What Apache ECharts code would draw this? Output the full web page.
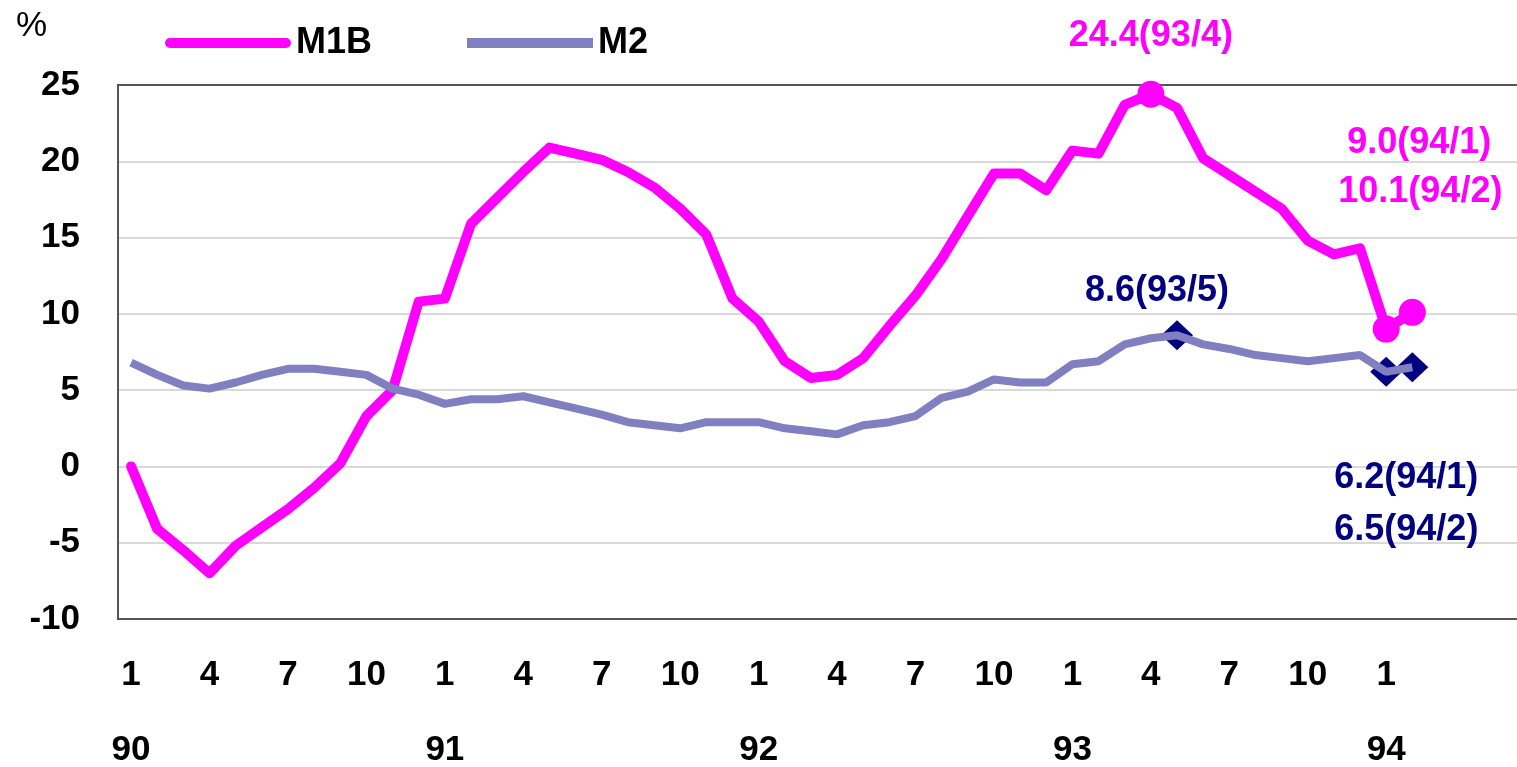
<!DOCTYPE html>
<html>
<head>
<meta charset="utf-8">
<title>M1B / M2</title>
<script src="https://cdn.jsdelivr.net/npm/echarts@6.0.0/dist/echarts.min.js"></script>
<style>
  html, body { margin: 0; padding: 0; background: #fff; }
  #chart { width: 1517px; height: 767px; }
</style>
</head>
<body>
<div id="chart"></div>
<script>
// year/month slots, 90/1 .. 94/2 hold data, the last few are empty room on the right
const categories = [
  '90/1', '90/2', '90/3', '90/4', '90/5', '90/6', '90/7', '90/8', '90/9', '90/10', '90/11', '90/12',
  '91/1', '91/2', '91/3', '91/4', '91/5', '91/6', '91/7', '91/8', '91/9', '91/10', '91/11', '91/12',
  '92/1', '92/2', '92/3', '92/4', '92/5', '92/6', '92/7', '92/8', '92/9', '92/10', '92/11', '92/12',
  '93/1', '93/2', '93/3', '93/4', '93/5', '93/6', '93/7', '93/8', '93/9', '93/10', '93/11', '93/12',
  '94/1', '94/2', '94/3', '94/4', '94/5', '94/6'
]

const m1b = [
  0.0, -4.1, -5.5, -7.0, -5.2, -4.0, -2.8, -1.4, 0.2, 3.3, 5.0, 10.8,
  11.0, 15.9, 17.6, 19.3, 20.9, 20.5, 20.1, 19.3, 18.3, 16.9, 15.2, 11.0,
  9.5, 6.9, 5.8, 6.0, 7.1, 9.2, 11.2, 13.6, 16.4, 19.2, 19.2, 18.1,
  20.7, 20.5, 23.7, 24.4, 23.5, 20.2, 19.1, 18.0, 16.9, 14.8, 13.9, 14.3,
  9.0, 10.1
]

const m2 = [
  6.8, 6.0, 5.3, 5.1, 5.5, 6.0, 6.4, 6.4, 6.2, 6.0, 5.1, 4.7,
  4.1, 4.4, 4.4, 4.6, 4.2, 3.8, 3.4, 2.9, 2.7, 2.5, 2.9, 2.9,
  2.9, 2.5, 2.3, 2.1, 2.7, 2.9, 3.3, 4.5, 4.9, 5.7, 5.5, 5.5,
  6.7, 6.9, 8.0, 8.4, 8.6, 8.0, 7.7, 7.3, 7.1, 6.9, 7.1, 7.3,
  6.2, 6.5
]

// highlighted points
const m1bMarks = ['93/4', '94/1', '94/2']
const m2Marks = ['93/5', '94/1', '94/2']

// where each note sits relative to its marker
const m1bNoteOffset = { '93/4': [0, -58], '94/1': [33, -186], '94/2': [8, -120] }
const m2NoteOffset = { '93/5': [-20, -44], '94/1': [20, 106], '94/2': [-6, 163] }

const font = "'Liberation Sans', Arial, sans-serif"
const pink = '#FF00FF'
const lilac = '#8080C0'
const navy = '#000080'

function marks (list, values, offsets) {
  return list.map(c => ({
    value: [c, values[categories.indexOf(c)]],
    label: { offset: offsets[c] }
  }))
}

const myChart = echarts.init(document.getElementById('chart'))
const option = {
  animation: false,
  title: {
    text: '%',
    left: 11,
    top: 4,
    textStyle: { fontFamily: font, fontSize: 35, fontWeight: 'normal', color: '#000' }
  },
  legend: {
    data: [
      { name: 'M1B', icon: 'path://M5,0 L121,0 A5,5 0 0 1 121,10 L5,10 A5,5 0 0 1 5,0 Z' },
      { name: 'M2', icon: 'rect' }
    ],
    left: 160,
    top: 20,
    itemWidth: 126,
    itemHeight: 10,
    itemGap: 95,
    textStyle: { fontFamily: font, fontSize: 36, fontWeight: 'bold', color: '#000' }
  },
  grid: {
    left: 118,
    top: 85,
    width: 1412,
    height: 534,
    outerBoundsMode: 'none',
    show: true,
    borderColor: '#555',
    borderWidth: 2
  },
  xAxis: [
    {
      type: 'category',
      data: categories,
      boundaryGap: true,
      axisLine: { show: true, onZero: false, lineStyle: { color: '#555', width: 2 } },
      axisTick: { show: false },
      axisLabel: {
        interval: (i) => i % 3 === 0 && i <= 48,
        formatter: (v) => v.split('/')[1],
        margin: 39,
        fontFamily: font,
        fontSize: 35,
        fontWeight: 'bold',
        color: '#000'
      }
    },
    {
      // second row: the year under each January
      type: 'category',
      data: categories,
      position: 'bottom',
      offset: 75,
      axisLine: { show: false, onZero: false },
      axisTick: { show: false },
      axisLabel: {
        interval: (i) => i % 12 === 0,
        formatter: (v) => v.split('/')[0],
        margin: 39,
        fontFamily: font,
        fontSize: 35,
        fontWeight: 'bold',
        color: '#000'
      }
    }
  ],
  yAxis: {
    type: 'value',
    min: -10,
    max: 25,
    interval: 5,
    axisLine: { show: true, lineStyle: { color: '#555', width: 2 } },
    axisTick: { show: false },
    splitLine: { showMaxLine: false, showMinLine: false, lineStyle: { color: '#d9d9d9', width: 2 } },
    axisLabel: {
      margin: 38,
      fontFamily: font,
      fontSize: 35,
      fontWeight: 'bold',
      color: '#000'
    }
  },
  series: [
    {
      name: 'M1B',
      type: 'line',
      data: m1b,
      symbol: 'none',
      lineStyle: { color: pink, width: 10, cap: 'round', join: 'round' },
      itemStyle: { color: pink }
    },
    {
      name: 'M2',
      type: 'line',
      data: m2,
      symbol: 'none',
      lineStyle: { color: lilac, width: 8 },
      itemStyle: { color: lilac }
    },
    {
      name: 'M1B marks',
      type: 'scatter',
      symbol: 'circle',
      symbolSize: 27,
      itemStyle: { color: pink, opacity: 1 },
      label: {
        show: true,
        position: 'inside',
        formatter: (p) => `${p.value[1].toFixed(1)}(${p.value[0]})`,
        fontFamily: font,
        fontSize: 36,
        fontWeight: 'bold',
        color: pink
      },
      data: marks(m1bMarks, m1b, m1bNoteOffset)
    },
    {
      name: 'M2 marks',
      type: 'scatter',
      symbol: 'diamond',
      symbolSize: [32, 30],
      itemStyle: { color: navy, opacity: 1 },
      label: {
        show: true,
        position: 'inside',
        formatter: (p) => `${p.value[1].toFixed(1)}(${p.value[0]})`,
        fontFamily: font,
        fontSize: 36,
        fontWeight: 'bold',
        color: navy
      },
      data: marks(m2Marks, m2, m2NoteOffset)
    }
  ]
}
myChart.setOption(option)
window.addEventListener('resize', () => myChart.resize())
</script>
</body>
</html>
